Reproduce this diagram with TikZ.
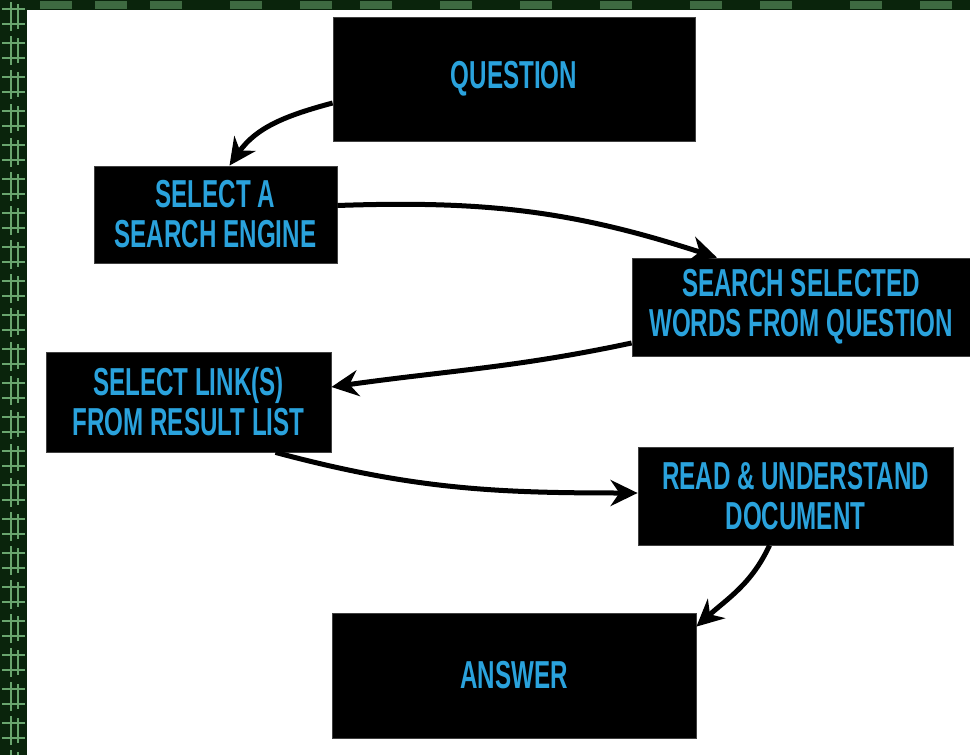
\documentclass[tikz,border=0pt]{standalone}
\usepackage{fontspec}
\newfontfamily\dinfont{Liberation Sans}[FakeStretch=0.62]
\usetikzlibrary{arrows.meta,calc}
\definecolor{txtblue}{RGB}{42,162,220}
\definecolor{mgreen}{RGB}{10,36,12}
\definecolor{lgreen}{RGB}{105,165,110}
\begin{document}
\begin{tikzpicture}[x=1pt,y=1pt,
 box/.style={fill=black, draw=black!75, line width=0.8pt, text=txtblue,
   font=\dinfont\bfseries\fontsize{39}{40}\selectfont, align=center, inner sep=0pt},
 flow/.style={line width=5pt, -{Stealth[length=27pt,width=26pt]}},
 texture/.style={lgreen, line width=2.2pt}]
\useasboundingbox (0,0) rectangle (970,-755);
% dark matrix-like background
\fill[mgreen] (0,0) rectangle (970,-755);
\foreach \yy in {0,34,...,750}{
  \draw[texture] (2,-\yy-9) -- (25,-\yy-9);
  \draw[texture] (2,-\yy-24) -- (25,-\yy-24);
  \draw[texture, line width=1.6pt] (11,-\yy-2) -- (11,-\yy-31);
  \draw[texture, line width=1.6pt] (18,-\yy-4) -- (18,-\yy-29);
}
\foreach \xx in {40,95,150,230,300,360,440,520,600,690,760,850,920}{
  \fill[lgreen, opacity=0.55] (\xx,-1) rectangle (\xx+32,-9);
}
% white panel
\fill[white] (27,-10) rectangle (970,-755);

% boxes
\node[box, minimum width=362pt, minimum height=124pt] (q)    at (514,-79)    {QUESTION};
\node[box, minimum width=243pt, minimum height=97pt]  (eng)  at (215.5,-214.5) {SELECT A\\SEARCH ENGINE};
\node[box, minimum width=338pt, minimum height=98pt]  (srch) at (801,-307)    {SEARCH SELECTED\\WORDS FROM QUESTION};
\node[box, minimum width=285pt, minimum height=100pt] (link) at (188.5,-402)  {SELECT LINK(S)\\FROM RESULT LIST};
\node[box, minimum width=315pt, minimum height=98pt]  (read) at (795.5,-496)  {READ \& UNDERSTAND\\DOCUMENT};
\node[box, minimum width=364pt, minimum height=125pt] (ans)  at (514,-675.5)  {ANSWER};

% connectors
\draw[flow] ($(q.west)+(0,-24)$) to[out=195,in=55] ($(eng.north)+(14,0)$);
\draw[flow] ($(eng.east)+(0,9)$) to[out=2,in=162] ($(srch.north)+(-84,0)$);
\draw[flow] ($(srch.west)+(0,-36)$) to[out=192,in=8] ($(link.east)+(0,15)$);
\draw[flow] ($(link.south)+(87,0)$) to[out=-15,in=180] ($(read.west)+(0,3)$);
\draw[flow] ($(read.south)+(-26,0)$) to[out=245,in=42] ($(ans.north east)+(0,-14)$);
\end{tikzpicture}
\end{document}
